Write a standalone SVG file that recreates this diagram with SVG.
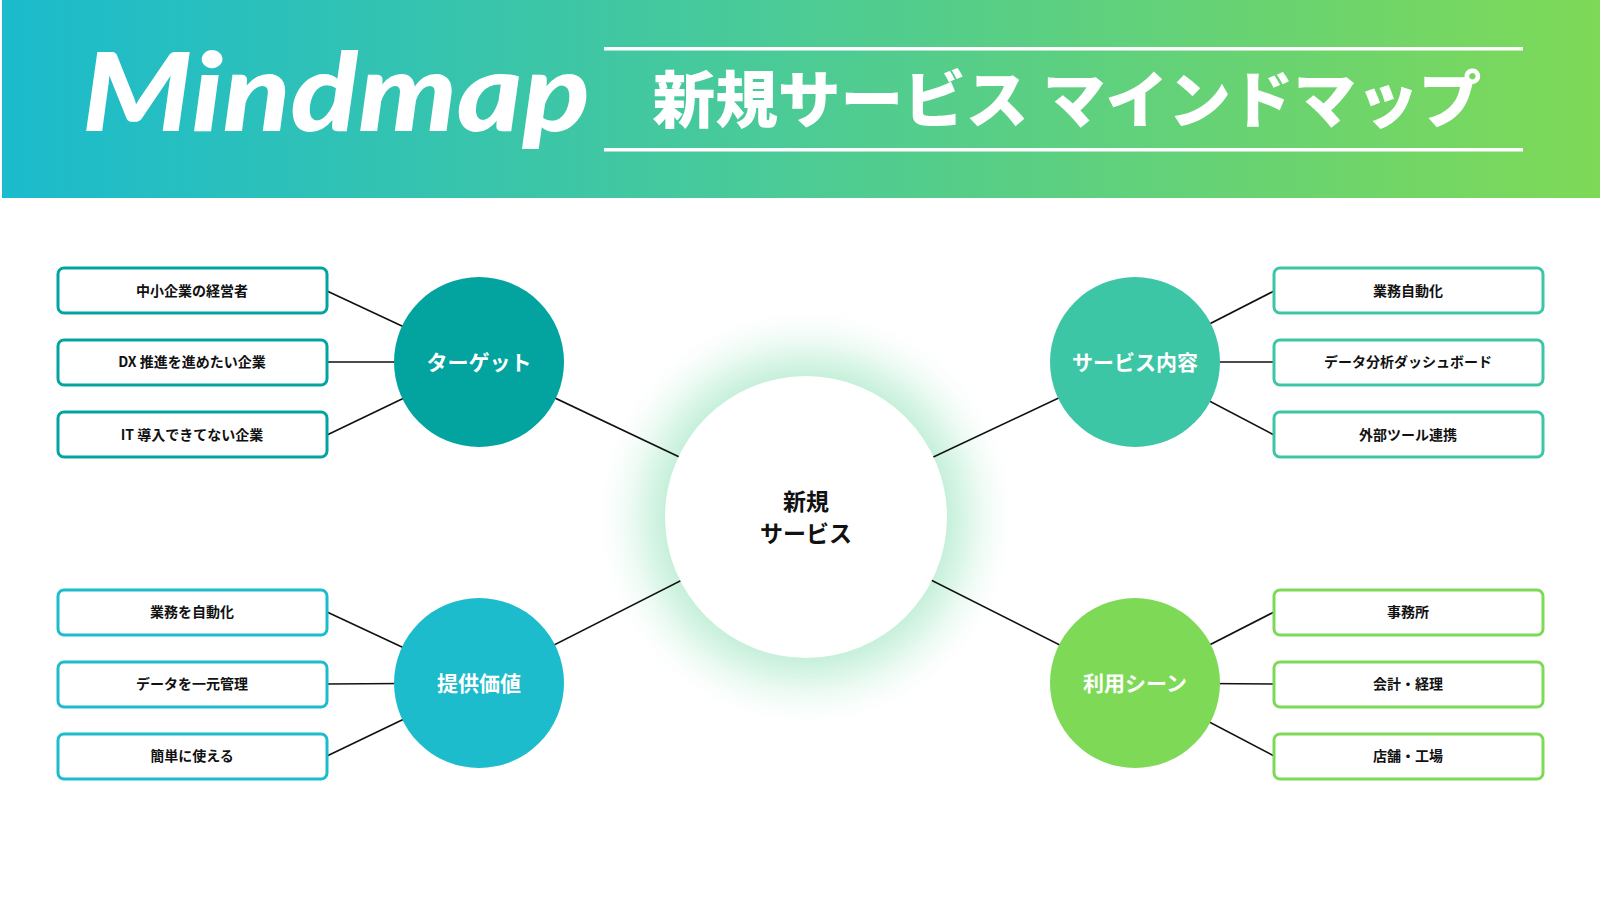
<svg xmlns="http://www.w3.org/2000/svg" width="1600" height="900" viewBox="0 0 1600 900">
<defs>
<linearGradient id="hdr" x1="0" y1="0" x2="1" y2="0">
<stop offset="0" stop-color="#1BBBCD"/>
<stop offset="0.5" stop-color="#4CCB95"/>
<stop offset="1" stop-color="#7ED957"/>
</linearGradient>
<radialGradient id="glow" cx="0.5" cy="0.5" r="0.5">
<stop offset="0.62" stop-color="#BDEDD4" stop-opacity="1"/>
<stop offset="0.75" stop-color="#D3F4E3" stop-opacity="0.8"/>
<stop offset="1" stop-color="#FFFFFF" stop-opacity="0"/>
</radialGradient>
<style>
.leaf rect{fill:#FFFFFF;stroke-width:3}
.leaf text{font-family:"Noto Sans CJK JP","Noto Sans",sans-serif;font-weight:700;font-size:14px;fill:#111;text-anchor:middle}
.branch text{font-family:"Noto Sans CJK JP","Noto Sans",sans-serif;font-weight:700;font-size:21px;fill:#FFFFFF;text-anchor:middle}
.conn line{stroke:#111;stroke-width:1.6}
</style>
</defs>
<rect width="1600" height="900" fill="#FFFFFF"/>
<g id="header">
<rect x="2" y="0" width="1598" height="198" fill="url(#hdr)"/>
<text x="82" y="131" font-family="Lato, 'Open Sans', sans-serif" font-weight="900" font-style="italic" font-size="108" fill="#FFFFFF" textLength="508" lengthAdjust="spacingAndGlyphs">Mindmap</text>
<rect x="604" y="47" width="919" height="3.5" fill="#FFFFFF"/>
<rect x="604" y="148" width="919" height="3.5" fill="#FFFFFF"/>
<text x="1067" y="123" font-family="'Noto Sans CJK JP',sans-serif" font-weight="900" font-size="62" fill="#FFFFFF" text-anchor="middle" textLength="829" lengthAdjust="spacingAndGlyphs">新規サービス マインドマップ</text>
</g>
<circle cx="806" cy="517" r="215" fill="url(#glow)"/>
<g id="connectors" class="conn">
<line x1="479" y1="362" x2="806" y2="517"/>
<line x1="1135" y1="362" x2="806" y2="517"/>
<line x1="479" y1="683" x2="806" y2="517"/>
<line x1="1135" y1="683" x2="806" y2="517"/>
<line x1="327" y1="291" x2="479" y2="362"/>
<line x1="327" y1="362" x2="479" y2="362"/>
<line x1="327" y1="435" x2="479" y2="362"/>
<line x1="1274" y1="291" x2="1135" y2="362"/>
<line x1="1274" y1="362" x2="1135" y2="362"/>
<line x1="1274" y1="435" x2="1135" y2="362"/>
<line x1="327" y1="612" x2="479" y2="683"/>
<line x1="327" y1="684" x2="479" y2="683"/>
<line x1="327" y1="756" x2="479" y2="683"/>
<line x1="1274" y1="612" x2="1135" y2="683"/>
<line x1="1274" y1="684" x2="1135" y2="683"/>
<line x1="1274" y1="756" x2="1135" y2="683"/>
</g>
<g id="center">
<circle cx="806" cy="517" r="141" fill="#FFFFFF"/>
<text x="806" y="510" font-family="'Noto Sans CJK JP',sans-serif" font-weight="700" font-size="23" fill="#111" text-anchor="middle">新規</text>
<text x="806" y="542" font-family="'Noto Sans CJK JP',sans-serif" font-weight="700" font-size="23" fill="#111" text-anchor="middle">サービス</text>
</g>
<g id="branch-target" class="branch">
<circle cx="479" cy="362" r="85" fill="#03A3A0"/>
<text x="479" y="370">ターゲット</text>
</g>
<g id="branch-service" class="branch">
<circle cx="1135" cy="362" r="85" fill="#3DC6A5"/>
<text x="1135" y="370">サービス内容</text>
</g>
<g id="branch-value" class="branch">
<circle cx="479" cy="683" r="85" fill="#1CBCCC"/>
<text x="479" y="691">提供価値</text>
</g>
<g id="branch-scene" class="branch">
<circle cx="1135" cy="683" r="85" fill="#7ED957"/>
<text x="1135" y="691">利用シーン</text>
</g>
<g id="leaf-t1" class="leaf"><rect x="58" y="268" width="269" height="45" rx="6" stroke="#03A3A0"/><text x="192" y="296">中小企業の経営者</text></g>
<g id="leaf-t2" class="leaf"><rect x="58" y="340" width="269" height="45" rx="6" stroke="#03A3A0"/><text x="192" y="367">DX 推進を進めたい企業</text></g>
<g id="leaf-t3" class="leaf"><rect x="58" y="412" width="269" height="45" rx="6" stroke="#03A3A0"/><text x="192" y="440">IT 導入できてない企業</text></g>
<g id="leaf-s1" class="leaf"><rect x="1274" y="268" width="269" height="45" rx="6" stroke="#3DC6A5"/><text x="1408" y="296">業務自動化</text></g>
<g id="leaf-s2" class="leaf"><rect x="1274" y="340" width="269" height="45" rx="6" stroke="#3DC6A5"/><text x="1408" y="367">データ分析ダッシュボード</text></g>
<g id="leaf-s3" class="leaf"><rect x="1274" y="412" width="269" height="45" rx="6" stroke="#3DC6A5"/><text x="1408" y="440">外部ツール連携</text></g>
<g id="leaf-v1" class="leaf"><rect x="58" y="590" width="269" height="45" rx="6" stroke="#1CBCCC"/><text x="192" y="617">業務を自動化</text></g>
<g id="leaf-v2" class="leaf"><rect x="58" y="662" width="269" height="45" rx="6" stroke="#1CBCCC"/><text x="192" y="689">データを一元管理</text></g>
<g id="leaf-v3" class="leaf"><rect x="58" y="734" width="269" height="45" rx="6" stroke="#1CBCCC"/><text x="192" y="761">簡単に使える</text></g>
<g id="leaf-u1" class="leaf"><rect x="1274" y="590" width="269" height="45" rx="6" stroke="#7ED957"/><text x="1408" y="617">事務所</text></g>
<g id="leaf-u2" class="leaf"><rect x="1274" y="662" width="269" height="45" rx="6" stroke="#7ED957"/><text x="1408" y="689">会計・経理</text></g>
<g id="leaf-u3" class="leaf"><rect x="1274" y="734" width="269" height="45" rx="6" stroke="#7ED957"/><text x="1408" y="761">店舗・工場</text></g>
</svg>
